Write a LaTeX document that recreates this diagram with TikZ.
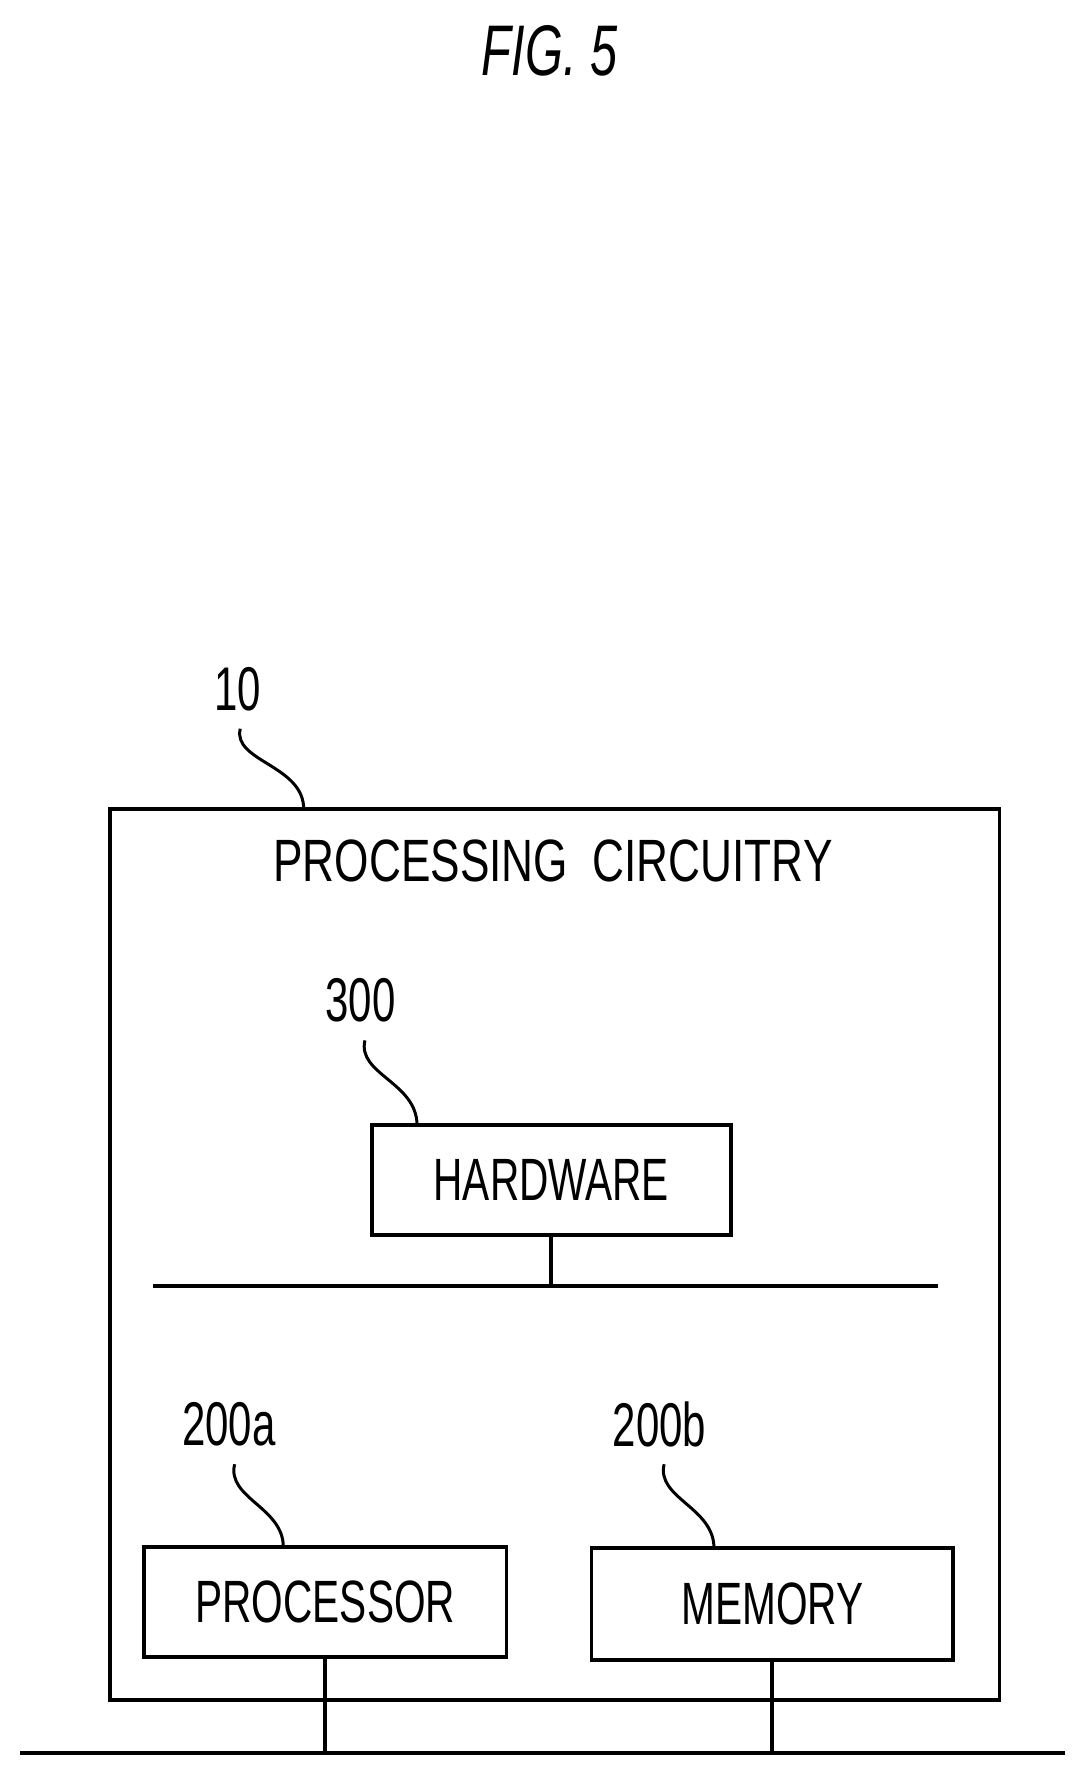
\documentclass[tikz,border=0pt]{standalone}
\usepackage{fontspec}
\setmainfont{Liberation Sans}
\usetikzlibrary{positioning}
\newcommand{\narrowtxt}[1]{\scalebox{0.68}[1]{#1}}
\begin{document}
\begin{tikzpicture}[
    x=0.02cm, y=-0.02cm,
    every node/.style={font=\fontsize{30}{30}\selectfont},
    block/.style={draw, line width=1.9pt, rectangle, inner sep=0pt},
    bus/.style={line width=1.9pt},
    leader/.style={line width=1.5pt},
    refnum/.style={font=\fontsize{31}{31}\selectfont}
]
\useasboundingbox (0,0) rectangle (960,1568);

\node (title) at (485,45) {\fontsize{36}{36}\selectfont\itshape\narrowtxt{FIG. 5}};

% outer circuitry box
\node[block, minimum width=785*0.02cm, minimum height=786*0.02cm] (circ) at (489.5,1107) {};
\node (circtxt) at (488,760) {\scalebox{0.74}[1]{PROCESSING\ \ CIRCUITRY}};
\node[refnum] (n10) at (210,608) {\narrowtxt{10}};
\coordinate (c10a) at (212,643);
\coordinate (c10) at (268,714);
\draw[leader] (c10a) .. controls (205,672) and (268,675) .. (c10);

% hardware
\node[block, minimum width=317*0.02cm, minimum height=97*0.02cm] (hw) at (486.5,1041.5) {\narrowtxt{HARDWARE}};
\node[refnum] (n300) at (318,883) {\narrowtxt{300}};
\coordinate (c300a) at (322,918);
\coordinate (c300) at (368,993);
\draw[leader] (c300a) .. controls (315,948) and (368,955) .. (c300);
\coordinate (hwbusL) at (135,1135);
\coordinate (hwbusR) at (828,1135);
\draw[bus] (hwbusL) -- (hwbusR);
\draw[bus] (hw.south) -- (hw.south |- hwbusL);

% processor and memory
\node[block, minimum width=320*0.02cm, minimum height=97*0.02cm] (proc) at (287,1413.5) {\narrowtxt{PROCESSOR}};
\node[block, minimum width=319*0.02cm, minimum height=99*0.02cm] (mem) at (681.5,1415.5) {\narrowtxt{MEMORY}};
\node[refnum] (n200a) at (202,1257) {\narrowtxt{200a}};
\node[refnum] (n200b) at (582,1257) {\narrowtxt{200b}};
\coordinate (c200aa) at (207,1292);
\coordinate (c200a) at (250,1365);
\coordinate (c200ba) at (586,1292);
\coordinate (c200b) at (630,1366);
\draw[leader] (c200aa) .. controls (200,1322) and (250,1330) .. (c200a);
\draw[leader] (c200ba) .. controls (579,1322) and (630,1330) .. (c200b);

\coordinate (busL) at (18,1547);
\coordinate (busR) at (940,1547);
\draw[bus] (busL) -- (busR);
\draw[bus] (proc.south) -- (proc.south |- busL);
\draw[bus] (mem.south) -- (mem.south |- busL);
\end{tikzpicture}
\end{document}
